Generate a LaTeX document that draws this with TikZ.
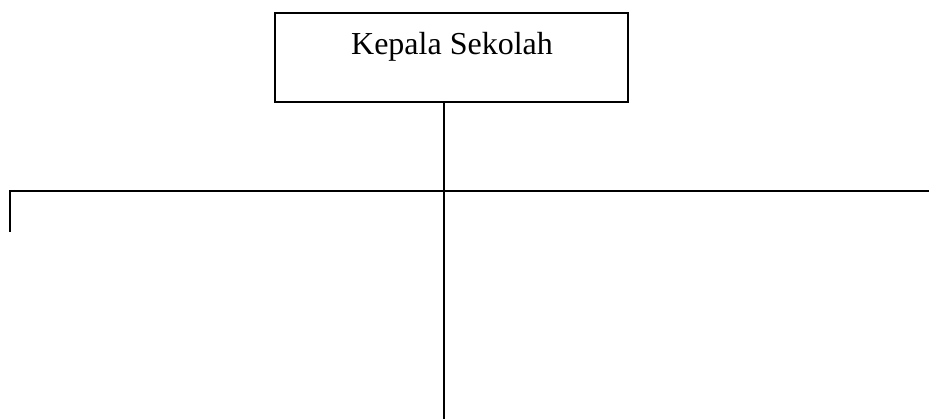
\documentclass[tikz,border=0pt]{standalone}
\usepackage{fontspec}
\setmainfont{Liberation Serif}
\begin{document}
\begin{tikzpicture}[x=1pt,y=-1pt,
  ln/.style={line width=2pt,black},
  boxst/.style={draw,line width=2pt,minimum width=353pt,minimum height=89pt,inner sep=0pt},
  lbl/.style={font=\fontsize{32}{38}\selectfont,anchor=base,inner sep=0pt}]
\useasboundingbox (0,0) rectangle (929,419);
\node[boxst] (ks) at (451.5,57.5) {};
\node[lbl] (kst) at (452,55) {Kepala Sekolah};
\coordinate (j) at (444,191);
\coordinate (l) at (10,191);
\coordinate (r) at (929,191);
\coordinate (lt) at (10,232);
\coordinate (b) at (444,419);
\draw[ln] (ks.south -| j) -- (j) -- (b);
\draw[ln] (lt) -- (l) -- (r);
\end{tikzpicture}
\end{document}
